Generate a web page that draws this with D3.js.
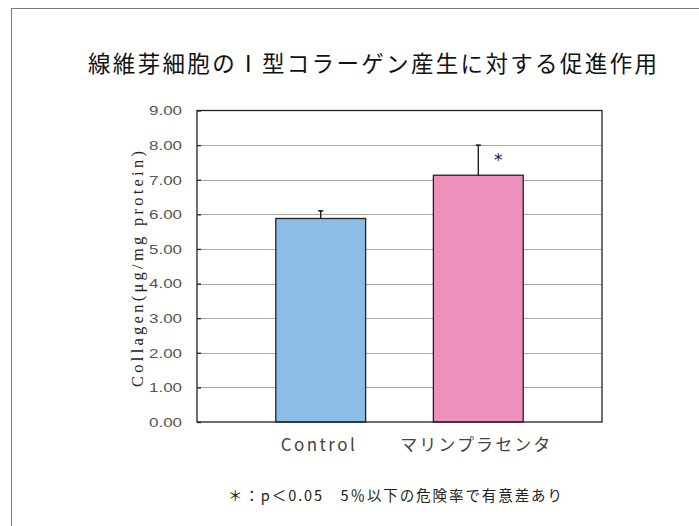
<!DOCTYPE html>
<html>
<head>
<meta charset="utf-8">
<script src="https://cdn.jsdelivr.net/npm/d3@7"></script>
<style>
  body { margin: 0; background: #fff; }
  svg { display: block; }
</style>
</head>
<body>
<svg id="chart" width="699" height="526"></svg>
<script>
// Chart data
const categories = ["Control", "マリンプラセンタ"];
const values = [5.88, 7.13];
const errors = [0.22, 0.87];
const significant = [false, true];
const yTicks = [0, 1, 2, 3, 4, 5, 6, 7, 8, 9];
const barColors = ["#8bbde6", "#ee90bc"];

const titleText = "線維芽細胞のⅠ型コラーゲン産生に対する促進作用";
const yAxisTitle = "Collagen(μg/mg protein)";
const footnote = "＊：p＜0.05　5％以下の危険率で有意差あり";

const svg = d3.select("#chart");
const plot = { left: 197, right: 602, top: 110.5, bottom: 422 };

// Outer frame (open on the right and bottom)
svg.append("rect")
  .attr("x", 11.5).attr("y", 8.5)
  .attr("width", 720).attr("height", 560)
  .attr("fill", "none").attr("stroke", "#7a7a7a").attr("stroke-width", 1);

// Title
svg.append("text")
  .attr("x", 88).attr("y", 72)
  .attr("textLength", 569).attr("lengthAdjust", "spacing")
  .attr("font-family", "'Noto Sans CJK JP', sans-serif")
  .attr("font-size", 22.5)
  .attr("fill", "#111")
  .text(titleText);

const x = d3.scaleBand()
  .domain(categories)
  .range([plot.left, plot.right])
  .paddingInner(0.43)
  .paddingOuter(0.5);

const y = d3.scaleLinear()
  .domain([0, 9])
  .range([plot.bottom, plot.top]);

// Gridlines
svg.append("g")
  .selectAll("line")
  .data(yTicks.filter(d => d > 0 && d < 9))
  .join("line")
  .attr("x1", plot.left).attr("x2", plot.right)
  .attr("y1", d => Math.round(y(d)) + 0.5).attr("y2", d => Math.round(y(d)) + 0.5)
  .attr("stroke", "#a8a8a8").attr("stroke-width", 1.2);

// Y axis with inward ticks and labels
const yAxis = d3.axisLeft(y)
  .tickValues(yTicks)
  .tickFormat(d3.format(".2f"))
  .tickSize(-4)
  .tickPadding(15);

const yAxisG = svg.append("g")
  .attr("transform", `translate(${plot.left},0)`)
  .call(yAxis);
yAxisG.select(".domain").remove();
yAxisG.selectAll(".tick line").attr("stroke", "#222").attr("stroke-width", 1.3);
yAxisG.selectAll(".tick text")
  .attr("textLength", 33).attr("lengthAdjust", "spacingAndGlyphs")
  .attr("font-family", "'Liberation Sans', Arial, sans-serif")
  .attr("font-size", 13.5)
  .attr("fill", "#555");

// Bars
svg.append("g")
  .selectAll("rect")
  .data(categories)
  .join("rect")
  .attr("x", d => x(d))
  .attr("y", (d, i) => y(values[i]))
  .attr("width", x.bandwidth())
  .attr("height", (d, i) => y(0) - y(values[i]))
  .attr("fill", (d, i) => barColors[i])
  .attr("stroke", "#222").attr("stroke-width", 1.3);

// Error bars (upper only)
const eb = svg.append("g");
categories.forEach((c, i) => {
  const cx = x(c) + x.bandwidth() / 2;
  eb.append("line")
    .attr("x1", cx).attr("x2", cx)
    .attr("y1", y(values[i])).attr("y2", y(values[i] + errors[i]))
    .attr("stroke", "#111").attr("stroke-width", 1.3);
  eb.append("line")
    .attr("x1", cx - 2.5).attr("x2", cx + 2.5)
    .attr("y1", y(values[i] + errors[i])).attr("y2", y(values[i] + errors[i]))
    .attr("stroke", "#111").attr("stroke-width", 1.5);
  if (significant[i]) {
    eb.append("text")
      .attr("x", cx + 20).attr("y", y(values[i] + errors[i]) + 21)
      .attr("text-anchor", "middle")
      .attr("font-family", "'DejaVu Sans', sans-serif")
      .attr("font-size", 17)
      .attr("fill", "#222")
      .text("*");
  }
});

// Plot frame
svg.append("rect")
  .attr("x", plot.left).attr("y", plot.top)
  .attr("width", plot.right - plot.left).attr("height", plot.bottom - plot.top)
  .attr("fill", "none").attr("stroke", "#222").attr("stroke-width", 1.3);

// Category labels
const catWidths = [74, 150];
svg.append("g")
  .selectAll("text")
  .data(categories)
  .join("text")
  .attr("x", d => x(d) + x.bandwidth() / 2 - 3)
  .attr("y", 451)
  .attr("text-anchor", "middle")
  .attr("textLength", (d, i) => catWidths[i]).attr("lengthAdjust", "spacing")
  .attr("font-family", "'Noto Sans CJK JP', sans-serif")
  .attr("font-size", 17)
  .attr("fill", "#444")
  .text(d => d);

// Y axis title
svg.append("text")
  .attr("transform", `translate(143,269) rotate(-90)`)
  .attr("text-anchor", "middle")
  .attr("textLength", 236).attr("lengthAdjust", "spacing")
  .attr("font-family", "'Liberation Serif', serif")
  .attr("font-size", 16.5)
  .attr("fill", "#222")
  .text(yAxisTitle);

// Footnote
svg.append("text")
  .attr("x", 228).attr("y", 501)
  .attr("textLength", 334).attr("lengthAdjust", "spacing")
  .attr("font-family", "'Noto Sans CJK JP', sans-serif")
  .attr("font-size", 14.5)
  .attr("fill", "#222")
  .text(footnote);
</script>
</body>
</html>
